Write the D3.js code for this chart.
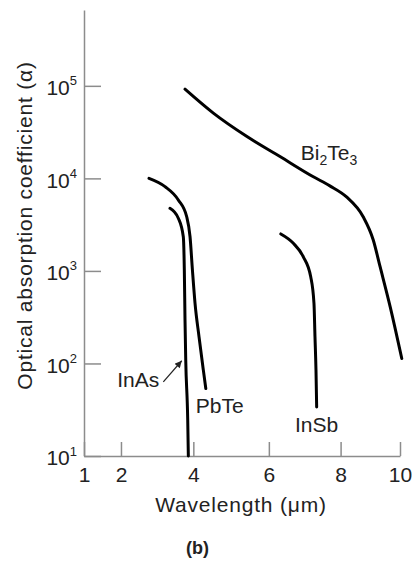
<!DOCTYPE html>
<html>
<head>
<meta charset="utf-8">
<script src="https://cdn.jsdelivr.net/npm/d3@7"></script>
<style>
  body { margin: 0; background: #fff; }
  svg text { font-family: "Liberation Sans", Arial, Helvetica, sans-serif; fill: #222; }
  .axis path, .axis line { stroke: #8c8c8c; stroke-width: 1.5; }
  .curve { fill: none; stroke: #000; stroke-width: 3; stroke-linecap: round; }
</style>
</head>
<body>
<div id="chart"></div>
<script>
// axis ticks
const xTicks = [1, 2, 4, 6, 8, 10];
// the printed axis is not evenly spaced, keep its tick spacing (fraction of axis length)
const xTickFrac = [0, 0.117, 0.346, 0.585, 0.812, 1];
const yTicks = [1e1, 1e2, 1e3, 1e4, 1e5];

// curves: [wavelength (um), absorption coefficient]
const bi2te3 = [[3.77, 9.2e4], [4.53, 5.07e4], [5.42, 2.83e4], [6.31, 1.72e4], [7.24, 1.04e4],
  [7.70, 8.3e3], [8.20, 6.3e3], [8.76, 3.85e3], [9.10, 2.16e3], [9.33, 1.11e3],
  [9.67, 409], [10.06, 113]];
const pbte = [[2.775, 1.0e4], [3.217, 8.15e3], [3.585, 5.85e3], [3.817, 3.85e3], [3.909, 2.34e3],
  [3.975, 1.02e3], [4.045, 446], [4.151, 194], [4.265, 84.7], [4.33, 53.6]];
const inas = [[3.355, 4.75e3], [3.585, 3.71e3], [3.723, 2.34e3], [3.751, 1.02e3], [3.77, 294],
  [3.79, 109], [3.845, 24.4], [3.862, 10]];
const insb = [[6.333, 2.51e3], [6.683, 1.99e3], [6.961, 1.42e3], [7.167, 865], [7.258, 446],
  [7.286, 194], [7.314, 84.7], [7.333, 33.9]];

// label anchors (data coords)
const labels = [
  {name: "Bi", sub: "2", name2: "Te", sub2: "3", x: 6.89, y: 1.58e4},
  {name: "InAs", x: 1.9, y: 55.8},
  {name: "PbTe", x: 4.064, y: 29.5},
  {name: "InSb", x: 6.73, y: 18.2}
];
const inasArrow = [[3.17, 63.3], [3.68, 107]];

const width = 415, height = 563;
const margin = {top: 10, right: 15, bottom: 107, left: 84};
const w = width - margin.left - margin.right,
      h = height - margin.top - margin.bottom;

const svg = d3.select("#chart").append("svg")
    .attr("width", width).attr("height", height);

svg.append("defs").append("marker")
    .attr("id", "arrow")
    .attr("viewBox", "0 0 10 10")
    .attr("refX", 10).attr("refY", 5)
    .attr("markerUnits", "userSpaceOnUse")
    .attr("markerWidth", 9).attr("markerHeight", 7)
    .attr("orient", "auto")
  .append("path")
    .attr("d", "M0,0L10,5L0,10z")
    .attr("fill", "#222");

const g = svg.append("g")
    .attr("transform", "translate(" + margin.left + "," + margin.top + ")");

const x = d3.scaleLinear().domain(xTicks).range(xTickFrac.map(f => f * w));
const y = d3.scaleLog().domain([10, 6.6e5]).range([h, 0]);

// x axis
const xAxis = g.append("g")
    .attr("class", "axis")
    .attr("transform", "translate(0," + h + ")")
    .call(d3.axisBottom(x).tickValues(xTicks).tickFormat(d3.format("d"))
      .tickSizeInner(-14).tickSizeOuter(0).tickPadding(11));
xAxis.selectAll("text").attr("font-size", 21).attr("fill", "#222");
xAxis.select(".domain").attr("stroke", "#8c8c8c");

// y axis
const yAxis = g.append("g")
    .attr("class", "axis")
    .call(d3.axisLeft(y).tickValues(yTicks).tickFormat("")
      .tickSizeInner(-17).tickSizeOuter(0).tickPadding(7));
yAxis.select(".domain").attr("stroke", "#8c8c8c");
yAxis.selectAll(".tick text").each(function(d) {
  const t = d3.select(this).attr("font-size", 21).attr("fill", "#222").attr("dy", "0.42em");
  t.append("tspan").text("10");
  t.append("tspan").attr("font-size", 13).attr("dy", "-0.75em").text(Math.round(Math.log10(d)));
});

// curves
const line = d3.line()
    .x(d => x(d[0]))
    .y(d => y(d[1]))
    .curve(d3.curveMonotoneX);

g.selectAll(".curve")
  .data([bi2te3, pbte, inas, insb])
  .enter().append("path")
    .attr("class", "curve")
    .attr("d", line);

// labels
labels.forEach(l => {
  const t = g.append("text")
      .attr("x", x(l.x)).attr("y", y(l.y))
      .attr("font-size", 21);
  t.append("tspan").text(l.name);
  if (l.sub) {
    t.append("tspan").attr("font-size", 14).attr("dy", 5).text(l.sub);
    t.append("tspan").attr("dy", -5).text(l.name2);
    t.append("tspan").attr("font-size", 14).attr("dy", 5).text(l.sub2);
  }
});

g.append("line")
    .attr("x1", x(inasArrow[0][0])).attr("y1", y(inasArrow[0][1]))
    .attr("x2", x(inasArrow[1][0])).attr("y2", y(inasArrow[1][1]))
    .attr("stroke", "#222").attr("stroke-width", 1.2)
    .attr("marker-end", "url(#arrow)");

// axis titles
svg.append("text")
    .attr("transform", "translate(31.5," + 225.5 + ") rotate(-90)")
    .attr("text-anchor", "middle")
    .attr("font-size", 21)
    .attr("letter-spacing", 0.8)
    .text("Optical absorption coefficient (\u03b1)");

svg.append("text")
    .attr("x", 241).attr("y", 512)
    .attr("text-anchor", "middle")
    .attr("font-size", 21)
    .attr("letter-spacing", 0.8)
    .text("Wavelength (\u03bcm)");

svg.append("text")
    .attr("x", 197.5).attr("y", 554)
    .attr("text-anchor", "middle")
    .attr("font-size", 18)
    .attr("font-weight", "bold")
    .text("(b)");
</script>
</body>
</html>
